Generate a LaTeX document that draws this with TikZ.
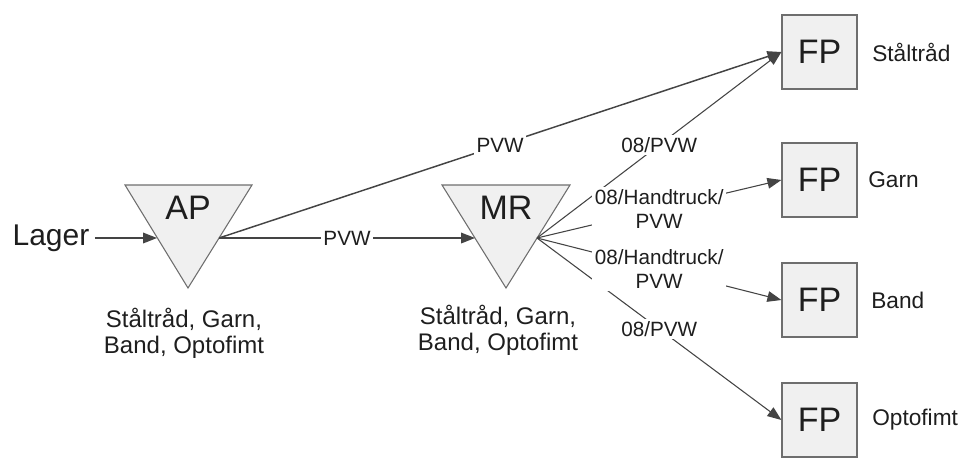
\documentclass[tikz,border=0pt]{standalone}
\usepackage{fontspec}
\setmainfont{Liberation Sans}
\usetikzlibrary{arrows.meta}
\definecolor{linegray}{HTML}{444444}
\definecolor{boxfill}{HTML}{F0F0F0}
\definecolor{boxline}{HTML}{6E6E6E}
\definecolor{ink}{HTML}{1E1E1E}

\begin{document}
\begin{tikzpicture}[x=0.75pt,y=-0.75pt,
  fpbox/.style={draw=boxline, fill=boxfill, line width=0.9pt,
    minimum width=56.25pt, minimum height=55.5pt, inner sep=0pt,
    font=\fontsize{25.5}{28}\selectfont, text=ink},
  sidelabel/.style={anchor=west, inner sep=0pt, font=\fontsize{17}{19}\selectfont, text=ink},
  tri/.style={draw=boxline, fill=boxfill, line width=0.8pt, line join=miter},
  trilabel/.style={inner sep=0pt, font=\fontsize{25.5}{28}\selectfont, text=ink},
  stock/.style={align=center, inner sep=0pt, font=\fontsize{18}{19.5}\selectfont, text=ink},
  flow/.style={draw=linegray, line width=1.1pt, -{Triangle[length=10.5pt,width=8pt]}},
  thinflow/.style={flow, line width=0.8pt},
  elabel/.style={fill=white, inner sep=2pt, align=center,
    font=\fontsize{15.5}{18.5}\selectfont, text=ink}
]
\useasboundingbox (0,0) rectangle (963,457);

% storage points (inverted triangles)
\draw[tri] (125,185) -- (252,185) -- (188,288) -- cycle;
\node[trilabel] (AP) at (188,208) {AP};
\coordinate (APin)  at (157,238);
\coordinate (APout) at (219,238);

\draw[tri] (442,185) -- (570,185) -- (506,288) -- cycle;
\node[trilabel] (MR) at (506,208) {MR};
\coordinate (MRin)  at (475,238);
\coordinate (MRout) at (537,238);

\node[stock] (APstock) at (184,333) {Ståltråd, Garn,\\Band, Optofimt};
\node[stock] (MRstock) at (498,330) {Ståltråd, Garn,\\Band, Optofimt};

% source
\node[inner sep=4pt, font=\fontsize{22.5}{25}\selectfont, text=ink] (lager) at (51,238) {Lager};

% finished-product boxes
\node[fpbox] (FP1) at (819.5,52)  {FP};
\node[fpbox] (FP2) at (819.5,180) {FP};
\node[fpbox] (FP3) at (819.5,300) {FP};
\node[fpbox] (FP4) at (819.5,420) {FP};

\node[sidelabel] (L1) at (872,52)  {Ståltråd};
\node[sidelabel] (L2) at (868,180) {Garn};
\node[sidelabel] (L3) at (871,300) {Band};
\node[sidelabel] (L4) at (872,420) {Optofimt};

% flows
\draw[flow] (lager.east) -- (APin);
\draw[flow] (APout) -- (MRin);
\draw[flow] (APout) -- (FP1.west);
\draw[thinflow] (MRout) -- (FP1.west);
\draw[thinflow] (MRout) -- (FP2.west);
\draw[thinflow] (MRout) -- (FP3.west);
\draw[thinflow] (MRout) -- (FP4.west);

% flow labels, set on top of all lines
\path (APout) -- (MRin) node[elabel, midway] {PVW};
\path (APout) -- (FP1.west) node[elabel, midway] {PVW};
\path (MRout) -- (FP1.west) node[elabel, midway] {08/PVW};
\path (MRout) -- (FP2.west) node[elabel, midway] {08/Handtruck/\\PVW};
\path (MRout) -- (FP3.west) node[elabel, midway] {08/Handtruck/\\PVW};
\path (MRout) -- (FP4.west) node[elabel, midway] {08/PVW};
\end{tikzpicture}
\end{document}
